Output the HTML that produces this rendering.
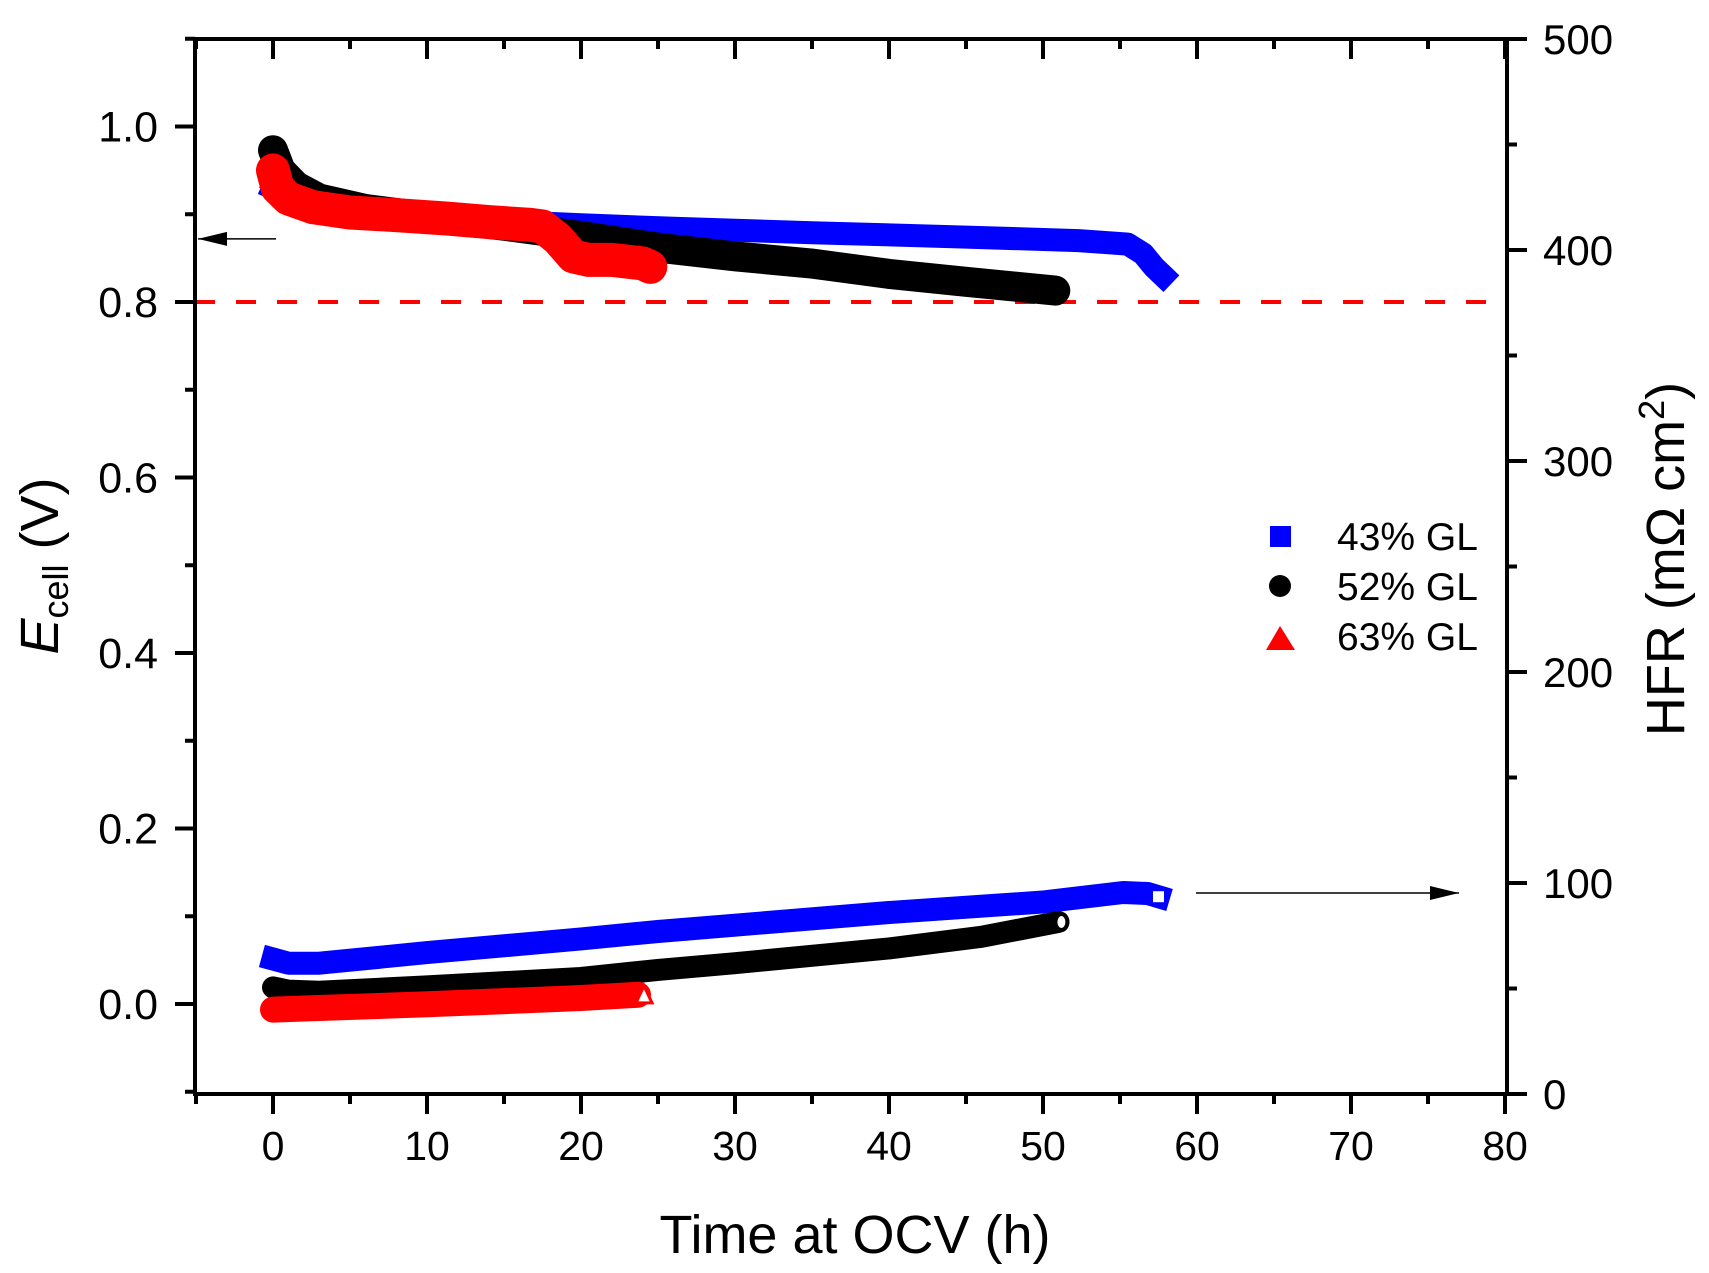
<!DOCTYPE html>
<html><head><meta charset="utf-8">
<style>
html,body{margin:0;padding:0;background:#fff;}
svg{display:block;font-family:"Liberation Sans",sans-serif;}
</style></head>
<body>
<svg id="chart" width="1709" height="1273" viewBox="0 0 1709 1273" xmlns="http://www.w3.org/2000/svg">
<g id="plot"></g>
</svg>
<script>
// ---- data ----
const xTicks = [0,10,20,30,40,50,60,70,80];
const yLeftTicks = [0.0,0.2,0.4,0.6,0.8,1.0];
const yLeftTickLabels = ["0.0","0.2","0.4","0.6","0.8","1.0"];
const yRightTicks = [0,100,200,300,400,500];
const seriesNames = ["43% GL","52% GL","63% GL"];
const blueEx = [0,2,5,10,15,20,26,35,45,52.3,55.5,56.5,57.2,57.8];
const blueEy = [0.93,0.915,0.905,0.897,0.892,0.888,0.884,0.879,0.874,0.870,0.866,0.855,0.84,0.83];
const blackEx = [0,0.5,1.5,3,6,10,15,20.5,25,30,34.9,40,45,50.8];
const blackEy = [0.973,0.95,0.932,0.918,0.906,0.897,0.887,0.874,0.862,0.852,0.844,0.832,0.823,0.813];
const redEx = [0,0.3,1,2.6,5,8,11.3,14,16.7,17.5,18.5,19.5,20.5,22,24,24.5];
const redEy = [0.95,0.93,0.918,0.908,0.902,0.899,0.895,0.891,0.888,0.886,0.872,0.852,0.848,0.848,0.844,0.84];
const blueHx = [0,1,3,10,20,25,30,40,50,55.2,56.8,57.5];
const blueHy = [64,62,62,67,73.5,77,80,86,91,95.5,95,93.5];
const blackHx = [0,1,3,10,20,25,30,40,46,51];
const blackHy = [50.5,49,48.5,51,55,58.8,62,69,74.5,81.5];
const redHx = [0,2,10,20,23.7];
const redHy = [40,40.5,42.5,45.5,47];

// ---- axes ----
const X0=273, XS=15.4;
const L0=1004, LS=877.5;
const R0=1094, RS=2.11;
const xp = v => X0 + v*XS;
const yl = v => L0 - v*LS;
const yr = v => R0 - v*RS;
const pL=195, pR=1507, pT=39, pB=1094;

const NS="http://www.w3.org/2000/svg";
const plot=document.getElementById('plot');
function mk(tag, attrs, parent){
  const e=document.createElementNS(NS,tag);
  for(const k in attrs) e.setAttribute(k,attrs[k]);
  (parent||plot).appendChild(e); return e;
}

const dash=mk('line',{x1:pL,x2:pR,y1:yl(0.8),y2:yl(0.8),stroke:'#f00','stroke-width':4,'stroke-dasharray':'20 21'});



function band(xs,ys,ymap,color,w,name,cap){
  const pts=xs.map((v,i)=>xp(v).toFixed(1)+','+ymap(ys[i]).toFixed(1)).join(' ');
  const p=mk('polyline',{points:pts,fill:'none',stroke:color,'stroke-width':w,'stroke-linejoin':'round','stroke-linecap':cap||'round'});
  
  
  return p;
}
band(blueHx,blueHy,yr,'#00f',23,'hfr-43-series','square');
band(blackHx,blackHy,yr,'#000',22,'hfr-52-series');
band(redHx,redHy,yr,'#f00',26,'hfr-63-series');
band(blueEx,blueEy,yl,'#00f',23,'ecell-43-series','square');
band(blackEx,blackEy,yl,'#000',30,'ecell-52-series');
band(redEx,redEy,yl,'#f00',34,'ecell-63-series');
const tip=mk('polygon',{points:`${xp(0)-14},${yl(0.93)} ${xp(0)},${yl(0.965)} ${xp(0)+14},${yl(0.93)}`,fill:'#f00'});



const bx=xp(blueHx[blueHx.length-1]), by=yr(blueHy[blueHy.length-1]);
const sq=mk('rect',{x:bx-7,y:by-7,width:14,height:14,fill:'#fff',stroke:'#00f','stroke-width':3});


const cx=xp(blackHx[blackHx.length-1]), cy=yr(blackHy[blackHy.length-1]);
const ci=mk('ellipse',{cx:cx+3,cy:cy,rx:6,ry:8,fill:'#fff',stroke:'#000','stroke-width':4});


const tx=xp(redHx[redHx.length-1])+6, ty=yr(redHy[redHy.length-1]);
const tr=mk('polygon',{points:`${tx-8},${ty+8} ${tx},${ty-9} ${tx+8},${ty+8}`,fill:'#fff',stroke:'#f00','stroke-width':3});



const fr=mk('rect',{x:pL,y:pT,width:pR-pL,height:pB-pT,fill:'none',stroke:'#000','stroke-width':4});



for(let v=-5; v<=80; v+=5){
  const major = v%10===0;
  const len = major?20:10;
  const x=xp(v);
  const t=mk('line',{x1:x,x2:x,y1:pB,y2:pB+len,stroke:'#000','stroke-width':4});
  
  
  const t2=mk('line',{x1:x,x2:x,y1:pT,y2:pT+len,stroke:'#000','stroke-width':4});
  
  
}
xTicks.forEach(v=>{
  const t=mk('text',{x:xp(v),y:pB+66,'font-size':41,'text-anchor':'middle'});
  t.textContent=String(v);
  
  
});
for(let i=-1;i<=11;i++){
  const v=i/10; const major=i%2===0;
  const y=yl(v); if(y>pB+1) continue;
  const t=mk('line',{x1:pL-(major?20:10),x2:pL,y1:y,y2:y,stroke:'#000','stroke-width':4});
  
  
}
yLeftTicks.forEach((v,i)=>{
  const t=mk('text',{x:158,y:yl(v)+15,'font-size':43,'text-anchor':'end'});
  t.textContent=yLeftTickLabels[i];
  
  
});
for(let v=0;v<=500;v+=50){
  const major=v%100===0;
  const y=yr(v);
  const t=mk('line',{x1:pR,x2:pR+(major?20:10),y1:y,y2:y,stroke:'#000','stroke-width':4});
  
  
}
yRightTicks.forEach(v=>{
  const t=mk('text',{x:1543,y:yr(v)+15,'font-size':42,'text-anchor':'start'});
  t.textContent=String(v);
  
  
});

function arrow(x1,x2,y,name){
  const g=mk('g',{});
  
  
  mk('line',{x1:x1,x2:x2,y1:y,y2:y,stroke:'#000','stroke-width':1.5},g);
  const d = x2>x1?1:-1;
  mk('polygon',{points:`${x2},${y} ${x2-d*29},${y-7} ${x2-d*29},${y+7}`,fill:'#000'},g);
}
arrow(276,198,yl(0.872),'left-axis-arrow');
arrow(1196,1459,893,'right-axis-arrow');

const lg=mk('g',{});


const ly=[536,586,636];
const s1=mk('rect',{x:1270,y:ly[0]-10,width:21,height:21,fill:'#00f'},lg);


const s2=mk('circle',{cx:1280,cy:ly[1],r:11,fill:'#000'},lg);


const s3=mk('polygon',{points:`1266,${ly[2]+14} 1280,${ly[2]-10} 1295,${ly[2]+14}`,fill:'#f00'},lg);


seriesNames.forEach((n,i)=>{
  const t=mk('text',{x:1337,y:ly[i]+14,'font-size':39},lg);
  t.textContent=n;
  
  
});

const xt=mk('text',{x:855,y:1253,'font-size':54,'text-anchor':'middle'});
xt.textContent='Time at OCV (h)';



const ylT=mk('text',{transform:'translate(58,566) rotate(-90)','font-size':54,'text-anchor':'middle'});


ylT.innerHTML='<tspan font-style="italic">E</tspan><tspan font-size="36" dy="10">cell</tspan><tspan dy="-10"> (V)</tspan>';

const yrT=mk('text',{transform:'translate(1684,559) rotate(-90)','font-size':54,'text-anchor':'middle'});


yrT.innerHTML='HFR (mΩ cm<tspan font-size="36" dy="-20">2</tspan><tspan dy="20">)</tspan>';
</script>
</body></html>
